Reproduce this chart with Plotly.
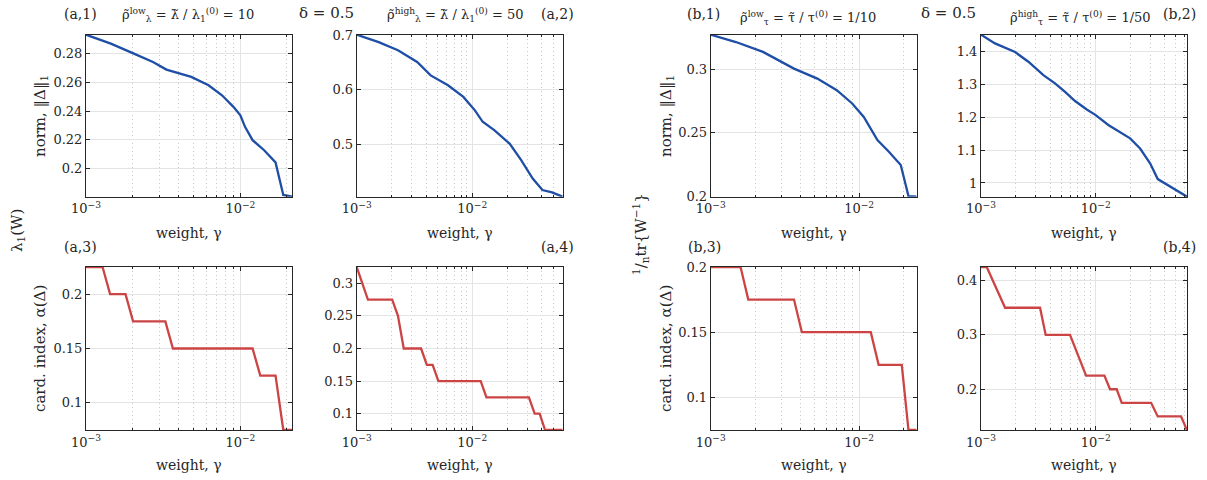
import numpy as np
import plotly.graph_objects as go

# ---------------- data ----------------
# (a,1) norm, rho_lambda low
gamma_a1 = [0.001, 0.001449, 0.002042, 0.002716, 0.003319, 0.004808, 0.006223, 0.007603,
            0.009016, 0.01, 0.01072, 0.0120, 0.01426, 0.0169, 0.01897, 0.0217]
norm_a1 = [0.2932, 0.287, 0.28, 0.2742, 0.2689, 0.2638, 0.258, 0.251,
           0.2429, 0.237, 0.229, 0.2197, 0.2127, 0.2042, 0.1815, 0.1803]

# (a,2) norm, rho_lambda high
gamma_a2 = [0.001, 0.001549, 0.002275, 0.003334, 0.004365, 0.006166, 0.008375, 0.01054,
            0.0123, 0.01549, 0.02104, 0.02649, 0.03334, 0.04046, 0.04898, 0.0606]
norm_a2 = [0.7006, 0.687, 0.672, 0.6506, 0.626, 0.608, 0.5866, 0.562,
           0.541, 0.5256, 0.501, 0.4707, 0.437, 0.4159, 0.4116, 0.4037]

# (b,1) norm, rho_tau low
gamma_b1 = [0.001, 0.001479, 0.002249, 0.003041, 0.003639, 0.005224, 0.007063, 0.008974,
            0.01074, 0.01327, 0.01585, 0.01905, 0.02148, 0.0244]
norm_b1 = [0.3276, 0.3218, 0.314, 0.306, 0.3008, 0.2929, 0.2837, 0.2732,
           0.2626, 0.2442, 0.235, 0.2245, 0.2, 0.1995]

# (b,2) norm, rho_tau high
gamma_b2 = [0.001, 0.001324, 0.001982, 0.002588, 0.003499, 0.004416, 0.005408, 0.006607,
            0.008356, 0.01, 0.01288, 0.01687, 0.01995, 0.02438, 0.02979, 0.03475,
            0.04305, 0.0526, 0.0625]
norm_b2 = [1.4525, 1.426, 1.3995, 1.37, 1.329, 1.304, 1.278, 1.25,
           1.2244, 1.207, 1.177, 1.151, 1.136, 1.105, 1.06, 1.0117,
           0.993, 0.973, 0.958]

# (a,3) cardinality index, rho_lambda low
gamma_a3 = [0.001, 0.00128, 0.001432, 0.001803, 0.002018, 0.003266, 0.003656,
            0.012, 0.01346, 0.0169, 0.01897, 0.0217]
card_a3 = [0.225, 0.225, 0.2, 0.2, 0.175, 0.175, 0.15,
           0.15, 0.125, 0.125, 0.075, 0.075]

# (a,4) cardinality index, rho_lambda high
gamma_a4 = [0.001, 0.00125, 0.002028, 0.002275, 0.002553, 0.003606, 0.004046, 0.004539,
            0.005093, 0.01183, 0.01327, 0.0309, 0.03467, 0.03828, 0.04266, 0.0606]
card_a4 = [0.325, 0.275, 0.275, 0.25, 0.2, 0.2, 0.175, 0.175,
           0.15, 0.15, 0.125, 0.125, 0.1, 0.1, 0.075, 0.075]

# (b,3) cardinality index, rho_tau low
gamma_b3 = [0.001, 0.001589, 0.001791, 0.003639, 0.004111, 0.01197, 0.01352,
            0.01936, 0.02148, 0.0244]
card_b3 = [0.2, 0.2, 0.175, 0.175, 0.15, 0.15, 0.125, 0.125, 0.075, 0.075]

# (b,4) cardinality index, rho_tau high
gamma_b4 = [0.001, 0.001122, 0.001622, 0.003273, 0.003664, 0.005970, 0.008241, 0.01191,
            0.01334, 0.01524, 0.01687, 0.0304, 0.03475, 0.05546, 0.0625]
card_b4 = [0.425, 0.425, 0.35, 0.35, 0.3, 0.3, 0.225, 0.225,
           0.2, 0.2, 0.175, 0.175, 0.15, 0.15, 0.125]

# tick labels
x_tickvals = [1e-3, 1e-2]
x_ticktext = ["10<sup>−3</sup>", "10<sup>−2</sup>"]
x_minorvals = [k * 1e-3 for k in range(2, 10)] + [k * 1e-2 for k in range(2, 10)]

yt_a1 = [0.2, 0.22, 0.24, 0.26, 0.28]
yt_a2 = [0.5, 0.6, 0.7]
yt_b1 = [0.2, 0.25, 0.3]
yt_b2 = [1.0, 1.1, 1.2, 1.3, 1.4]
yt_a3 = [0.1, 0.15, 0.2]
yt_a4 = [0.1, 0.15, 0.2, 0.25, 0.3]
yt_b3 = [0.1, 0.15, 0.2]
yt_b4 = [0.2, 0.3, 0.4]

# ---------------- styling / layout ----------------
W, H = 1207, 480
FONT = "DejaVu Serif, Liberation Serif, serif"
BLUE = "#1f4ea6"
RED = "#cc4444"
AXC = "#262626"

def fx(px):
    return px / W

def fy(py):
    return 1 - py / H

TOP = (34.7, 196.7)
BOT = (267.0, 430.0)
COLS = [(86.0, 292.3), (356.7, 562.7), (710.7, 916.7), (981.0, 1187.0)]

panels = [
    (gamma_a1, norm_a1, BLUE, COLS[0], TOP, yt_a1),
    (gamma_a2, norm_a2, BLUE, COLS[1], TOP, yt_a2),
    (gamma_b1, norm_b1, BLUE, COLS[2], TOP, yt_b1),
    (gamma_b2, norm_b2, BLUE, COLS[3], TOP, yt_b2),
    (gamma_a3, card_a3, RED, COLS[0], BOT, yt_a3),
    (gamma_a4, card_a4, RED, COLS[1], BOT, yt_a4),
    (gamma_b3, card_b3, RED, COLS[2], BOT, yt_b3),
    (gamma_b4, card_b4, RED, COLS[3], BOT, yt_b4),
]

fig = go.Figure()
layout = dict(
    width=W, height=H,
    margin=dict(l=0, r=0, t=0, b=0),
    paper_bgcolor="white", plot_bgcolor="white",
    showlegend=False,
    font=dict(family=FONT, size=13, color=AXC),
)

for i, (gx, gy, col, cx, ry, yt) in enumerate(panels, start=1):
    xa = "x" if i == 1 else "x%d" % i
    ya = "y" if i == 1 else "y%d" % i
    fig.add_trace(go.Scatter(x=gx, y=gy, mode="lines",
                             line=dict(color=col, width=2.3),
                             xaxis=xa, yaxis=ya, hoverinfo="skip"))
    xr = [np.log10(min(gx)), np.log10(max(gx))]
    yr = [min(gy), max(gy)]
    common = dict(showline=True, linecolor=AXC, linewidth=1, mirror="allticks",
                  ticks="inside", ticklen=4, tickcolor=AXC, zeroline=False,
                  showgrid=True, gridcolor="#e4e4e4", gridwidth=1,
                  tickfont=dict(family=FONT, size=13, color=AXC), automargin=False)
    layout["xaxis" if i == 1 else "xaxis%d" % i] = dict(
        common, type="log", range=xr, domain=[fx(cx[0]), fx(cx[1])],
        anchor=ya, tickmode="array", tickvals=x_tickvals, ticktext=x_ticktext,
        minor=dict(tickmode="array", tickvals=x_minorvals, ticks="inside", ticklen=2,
                   tickcolor=AXC, showgrid=True, griddash="1px,3px",
                   gridcolor="#c8c8c8", gridwidth=1),
    )
    layout["yaxis" if i == 1 else "yaxis%d" % i] = dict(
        common, range=yr, domain=[fy(ry[1]), fy(ry[0])], anchor=xa,
        tickmode="array", tickvals=yt, ticktext=["%g" % v for v in yt],
    )

fig.update_layout(**layout)

# ---------------- text ----------------
def ann(text, x, y, size=14, angle=0, xanchor="center"):
    fig.add_annotation(text=text, x=fx(x), y=fy(y), xref="paper", yref="paper",
                       showarrow=False, textangle=angle, xanchor=xanchor, yanchor="middle",
                       font=dict(family=FONT, size=size, color=AXC))

ann("(a,1)", 80, 14)
ann("ρ\u0303<sup>low</sup><sub>λ</sub> = λ\u0303 / λ<sub>1</sub><sup>(0)</sup> = 10", 188, 15, size=13)
ann("δ = 0.5", 326, 13, size=15)
ann("ρ\u0303<sup>high</sup><sub>λ</sub> = λ\u0303 / λ<sub>1</sub><sup>(0)</sup> = 50", 455, 15, size=13)
ann("(a,2)", 557, 14)

ann("(b,1)", 703, 14)
ann("ρ\u0303<sup>low</sup><sub>τ</sub> = τ\u0303 / τ<sup>(0)</sup> = 1/10", 808, 18, size=13)
ann("δ = 0.5", 948, 13, size=15)
ann("ρ\u0303<sup>high</sup><sub>τ</sub> = τ\u0303 / τ<sup>(0)</sup> = 1/50", 1080, 18, size=13)
ann("(b,2)", 1179, 14)

ann("(a,3)", 80, 247)
ann("(a,4)", 557, 247)
ann("(b,3)", 705, 247)
ann("(b,4)", 1179, 247)

for cx in COLS:
    mid = (cx[0] + cx[1]) / 2
    ann("weight, γ", mid, 233)
    ann("weight, γ", mid, 465)

ann("norm, ‖Δ‖<sub>1</sub>", 40, 116, size=15, angle=-90)
ann("card. index, α(Δ)", 40, 349, size=15, angle=-90)
ann("norm, ‖Δ‖<sub>1</sub>", 666, 116, size=15, angle=-90)
ann("card. index, α(Δ)", 666, 349, size=15, angle=-90)
ann("λ<sub>1</sub>(W)", 18, 231, size=15, angle=-90)
ann("<sup>1</sup>/<sub>n</sub>tr{W<sup>−1</sup>}", 640, 234, size=15, angle=-90)

fig.write_html("out.html", config={"displayModeBar": False, "staticPlot": True},
               post_script="document.body.style.margin='0';document.body.style.overflow='hidden';")
